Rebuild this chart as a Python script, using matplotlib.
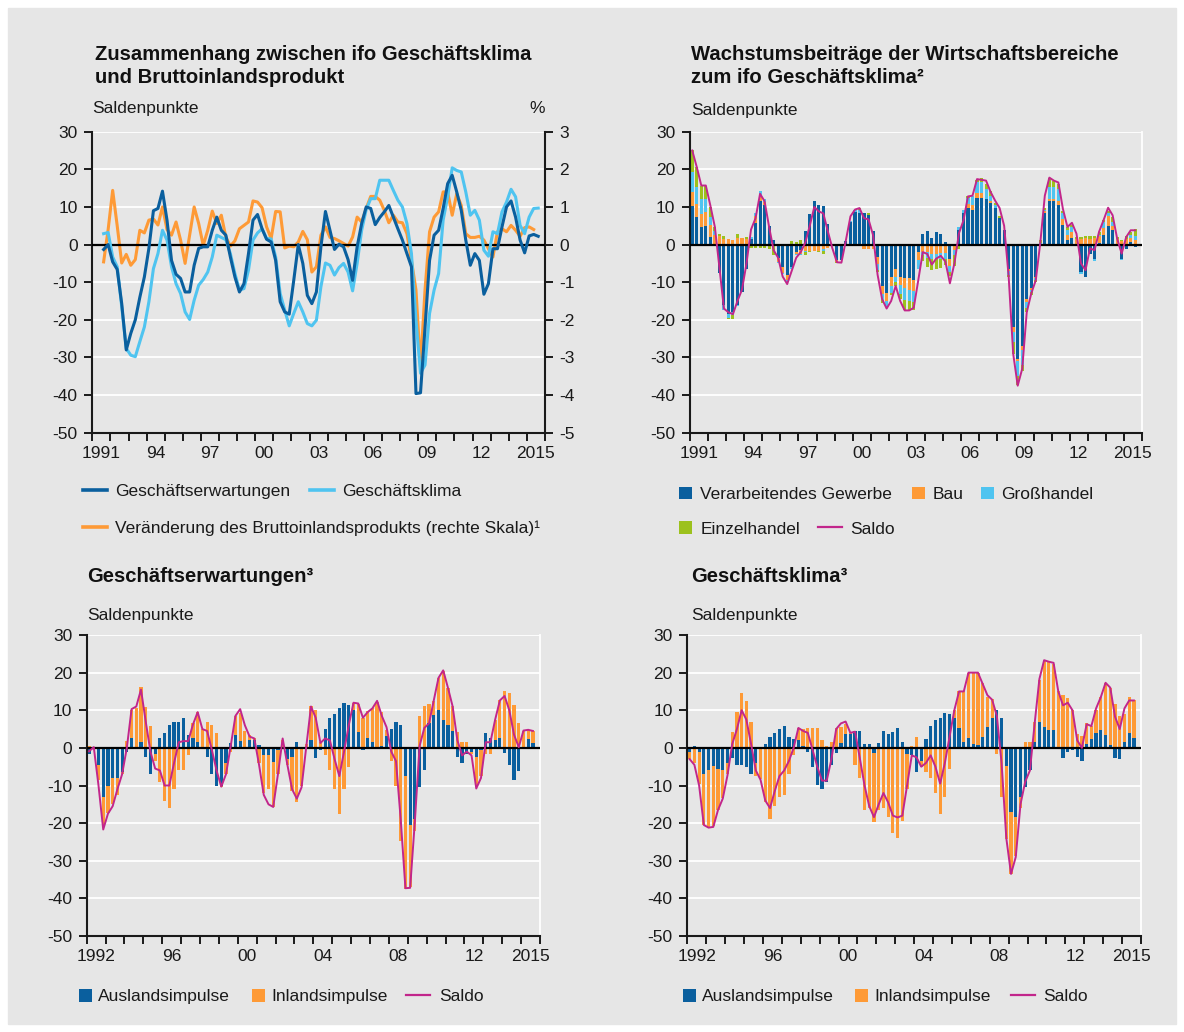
import numpy as np
import matplotlib.pyplot as plt
from matplotlib.lines import Line2D
from matplotlib.patches import Rectangle

plt.rcParams["font.family"] = ["Liberation Sans", "DejaVu Sans"]
plt.rcParams["font.size"] = 12.5
plt.rcParams["axes.unicode_minus"] = False
plt.rcParams["text.color"] = "#1a1a1a"

W, H = 1184, 1032

# Farben
BG = "#e6e6e6"
DUNKELBLAU = "#0a5f9e"
HELLBLAU = "#4fc4f0"
ORANGE = "#fe9a36"
GRUEN = "#9cc11d"
MAGENTA = "#c2268b"

# --- Daten Grafik 1 (Quartale ab 1991 Q3) ---
erwartungen = [-1.3, 0, -4.6, -6.6, -15.7, -28, -23.6, -20, -14, -8.6,
               -1, 9, 9.6, 14.2, 6.5, -4.2, -7.9, -9, -12.6, -12.6,
               -5.5, -1, -0.6, -0.6, 3.8, 7.3, 3.8, 2.5, -3.3, -8.6,
               -12.6, -10.4, -2.4, 6.5, 8, 4.2, 1.4, 0.7, -4.2, -15.2,
               -17.9, -18.5, -9.5, 0, -5, -13.5, -15.7, -12.6, -0.6, 8.8,
               3.8, -1.3, 0.1, -0.6, -4, -9.5, -0.6, 5.6, 10, 9.6,
               5.3, 7.2, 8.7, 10.4, 7.3, 4.2, 1.2, -2.4, -5.9, -39.6,
               -39.4, -22, -4.2, 2.5, 3.8, 9.6, 16.2, 18.4, 14, 9.1,
               1.2, -5.5, -2.4, -4.2, -13.2, -10.4, -1.1, -1.1, 4.7, 10,
               11.6, 7.3, 1.2, -2.2, 2.3, 2.7, 2.2]
klima = [2.9, 3.2, -3.3, -5.9, -16.5, -27.6, -29.4, -29.8, -25.8, -21.9,
         -15.2, -6.4, -2.4, 3.8, 1.2, -5.9, -10.4, -13, -17.9, -19.9,
         -14.8, -10.8, -9.3, -7.3, -3.3, 2.5, 1.9, 1.3, -2.4, -7.7,
         -12.1, -11.7, -6.8, 1.2, 3.1, 4.2, 1.6, 1.5, -3.3, -13,
         -17.4, -21.6, -18.3, -15.2, -17.9, -21, -21.6, -20.1, -11.2, -4.9,
         -5.5, -8.1, -6.1, -5, -7.3, -12.3, -5, 3.8, 9.3, 12.2,
         12.2, 17.1, 17.1, 17.1, 14.4, 11.8, 10, 5.6, -2.4, -20.1,
         -34.2, -32, -18.3, -12.1, -7.7, 6.5, 12.7, 20.4, 19.7, 19.3,
         14, 7.8, 9.1, 6.5, -1.5, -3.1, 3.4, 2.9, 8.7, 11.3,
         14.7, 12.7, 5.1, 2.9, 7.3, 9.6, 9.7]
bip = [-0.46, 0.4, 1.44, 0.5, -0.49, -0.26, -0.55, -0.4, 0.38, 0.31,
       0.65, 0.68, 0.52, 1.0, 0.4, 0.25, 0.6, 0.12, -0.5, 0.25,
       1.0, 0.56, -0.02, 0.38, 0.89, 0.56, 0.78, 0.2, -0.04, 0.1,
       0.42, 0.51, 0.6, 1.16, 1.13, 0.98, 0.47, 0.16, 0.88, 0.87,
       -0.09, -0.04, -0.06, 0.07, 0.35, 0.13, -0.73, -0.59, 0.25, 0.47,
       0.19, 0.16, 0.1, 0.03, -0.04, 0.2, 0.73, 0.6, 0.96, 1.28,
       1.28, 1.18, 0.91, 0.58, 0.78, 0.6, 0.58, 0.29, -0.42, -1.21,
       -3.25, -1.2, 0.34, 0.73, 0.87, 1.4, 1.4, 0.78, 1.35, 1.04,
       0.29, 0.19, 0.19, 0.22, 0.12, -0.11, -0.33, 0.34, 0.42, 0.34,
       0.51, 0.38, 0.22, 0.45, 0.47, 0.4]

# --- Daten Grafik 2 (Quartale ab 1991 Q1) ---
verarbeitend = [10.2, 7.3, 4.7, 4.9, 2, 0, -7.5, -16, -18.5, -18,
                -16, -12.5, -6.5, 1.5, 5.7, 11.7, 10.5, 5, 1.2, -3.5,
                -6, -8, -6, -2, -1.5, 3.5, 8, 11.5, 10.5, 10.2,
                5.5, 0, -4, -4, 1, 6, 8.6, 8.3, 8.3, 7.8,
                3.5, -3.3, -11, -13, -8.5, -6.5, -8.5, -9, -9, -9.3,
                -2, 2.7, 3.5, 1.7, 3.3, 2.8, 0.6, -3.8, 0, 4,
                8.5, 9.7, 9.3, 12.4, 12.4, 12.2, 11, 9.7, 7, 3.8,
                -6.5, -22, -30.5, -27, -14.5, -11.5, -8.5, -0.5, 8.5, 11.5,
                11.5, 10.5, 5.3, 1.3, 1.8, -0.3, -7.3, -8.5, -2.5, -3.8,
                0.3, 2.5, 5, 4, -0.3, -3.8, -1.1, 0.6, -0.6]
bau = [3.8, 3.5, 3.4, 3.8, 3.1, 2.5, 2.2, 1.6, 1.6, 1.2,
       1.8, 1.7, 1.5, 0, 2, 1, 0.7, 0, -0.5, -1,
       -1.5, -1.5, 0, -0.5, -0.9, -1.6, -1.8, -1.8, -1.8, -1.2,
       -0.8, -0.2, -0.5, 0, 0, 0, 0, 0, -1.2, -1.2,
       -1.2, -1.8, -2.2, -2, -2.5, -2, -2.2, -2.6, -3, -3,
       -2.2, -2, -2, -2.5, -2.5, -2.3, -2.3, -2, -1.5, -0.5,
       0, 1, 1.2, 1.3, 1.3, 0, 0.5, 0, 0, 0,
       -0.5, -1.3, -0.5, -1, -0.8, -0.5, -0.3, 0, 0.3, 0.7,
       0.6, 1.2, 1.5, 1.2, 1.5, 1.5, 1.5, 1.7, 1.5, 1.8,
       2, 2, 2.5, 1, 1.5, 1, 1.5, 1.2, 1.2]
grosshandel = [5.3, 4.4, 3.9, 3.3, 2.2, 1, 0, -1.5, -1, -0.8,
               -0.4, 0, 0, 0.5, 0.8, 1.5, 1, 0, 0, -0.3,
               -0.4, -0.5, -0.5, -0.3, -0.3, -0.5, 0, 0, 0, -0.5,
               0, 0, 0, -0.2, 0, 0.3, 0.5, 0.8, 0, 0,
               0, -1.7, -1.5, -1.5, -1.8, -1.5, -2.5, -3.2, -3, -3,
               -2.2, -0.8, -1.5, -1.3, -1.2, -1.5, -1.5, -1.5, -1.3, 0.7,
               0.8, 1.6, 2.3, 3, 3, 2.5, 1.5, 0.8, 0, 0,
               -1, -2.7, -3.8, -4, -1.5, -0.7, -0.7, 0.3, 0.5, 3.2,
               3.2, 3, 1.5, 1.5, 1.5, 0, -0.5, 0, 0, -0.5,
               0.3, 1.5, 1, 1, 0, -0.4, 0, 0.8, 1.1]
einzelhandel = [5.8, 5.4, 3.7, 3.7, 2.7, 1.2, 0.6, 0.6, -0.3, -1,
                1, 0, 0.5, -0.8, -0.8, -0.8, -1, -1.2, -2.4, 0,
                0, 0, 1, 0.6, 1.2, -0.6, -0.3, 0, -0.3, -0.7,
                0, 0, -0.5, 0, 0, 0, 0, 0.5, 0, 0.5,
                0, -0.6, -0.8, 0, -0.5, -1, -1.3, -2.5, -2.3, -2,
                0, -1.5, -2.4, -3, -2.8, -2.3, -1.5, -1, -2.8, -0.7,
                0, 0.5, 0, 0.5, 1, 1.3, 1.2, 0.5, 0.5, 0,
                -0.5, -3, -2.5, -1.5, -1.2, -0.8, -0.5, 0.8, 0.5, 2.2,
                1.5, 1.5, 0.5, 0.7, 0.5, 0.5, 0.6, 0.6, 0.8, 0.6,
                0.8, 0.5, 0.5, 1.2, 0.5, 0.3, 0.8, 0.8, 1.8]
saldo_bereiche = [25, 20.6, 15.7, 15.7, 10.4, 4.7, -6, -17, -18, -18.5,
                  -15, -12, -5, 4, 7, 13.5, 11.5, 4.7, -1.5, -3.5,
                  -8.5, -10.5, -7, -3.5, -2, 0.5, 5, 10, 8.8, 8.3,
                  3.5, -1, -4.7, -4.8, 1.2, 7.5, 9.3, 9.7, 7, 6.7,
                  2.5, -8, -14.5, -17, -15, -11, -15, -17.5, -17.5, -16.8,
                  -9.5, -2, -2.5, -5.3, -3.7, -3, -4.5, -10.3, -5, 3,
                  6.4, 12.8, 13, 17.4, 17.2, 17, 14, 11.7, 9.7, 5,
                  -8.5, -29, -37.5, -33, -18, -13, -9.5, 0.5, 13, 17.8,
                  17, 16.5, 9.5, 4.7, 5.8, 2.9, -5, -6.8, -1, -1.5,
                  3.4, 6.5, 9.8, 7.8, 1.6, -2.4, 2, 3.8, 3.8]

# --- Daten Grafik 3: Geschäftserwartungen (Quartale ab 1992 Q1) ---
erw_ausland = [-1.5, 0, -4.5, -13, -10, -8, -8, -6.5, -1.2, 2.5,
               0, 1.5, -2.3, -7, -1.5, 2.7, 4, 6, 7, 7,
               8, 3.5, 2.7, 1.6, 0, -2.5, -7, -10, -10, -4,
               1.3, 3.5, 1.8, 0, 2, 2, 0.8, -2, -2, -3.7,
               -0.5, 0, -3, -2.5, 1.5, 0, 0, 2, -2.8, -0.5,
               5, 8, 9, 10.5, 12, 11.5, 10, 4.2, -0.5, 2.7,
               1.5, 0.2, 0.5, 3.2, 5, 7, 6, -7.5, -20.5, -19,
               -10.3, -6, 6.7, 8.7, 10, 7.5, 6, 4.5, -2.3, -4,
               -1.5, -1, -2.5, -0.5, 4, 2.5, 2, 2.7, -1.4, -4.5,
               -8.5, -6.2, 0, 2.4, 1.3]
erw_inland = [0.5, 0, -4, -8, -7.3, -7, -4.4, -0.5, 1.8, 7.5,
              10.5, 14.8, 10.8, 5.8, -2, -9, -14, -16, -11, -6,
              -6, -2, 4, 8, 5, 7, 6, 4, -0.5, -3,
              -1, 5, 7.5, 4.6, 1.5, 0.5, -4, -10, -9, -12,
              -6.5, 2, -1.5, -9, -14.3, -10, 1, 9, 10, 1.5,
              -2, -6, -11, -17.5, -11, -5, 2, 7.5, 8, 7,
              9, 12, 9, 1.5, -3.5, -10, -24.7, -30, -16.5, -3,
              8.5, 11, 5, 3.8, 8.5, 13, 10, 6.5, 4.3, 1.5,
              1.5, -0.5, -8, -7, -1.5, -1.5, 5.5, 10, 15, 14.5,
              11.5, 6.5, 4.6, 2.4, 3.3]
erw_saldo = [-0.9, 0.2, -10, -21.7, -17.5, -15.5, -11, -7, 0, 10.3,
             11, 15.5, 7, -1, -5.5, -6, -10, -10, -4, 1.5,
             1.8, 1.8, 6.2, 9.5, 5, 4.5, -0.5, -6, -10.3, -7,
             0.5, 8.5, 10.3, 6, 3, 2.5, -4.5, -12.5, -15, -15.7,
             -7, 2.5, -4.5, -11, -13.5, -10.5, 0.3, 11, 8, 1.3,
             2.5, 2, -3, -7.5, -1, 6, 12, 11.8, 8, 9.5,
             10.5, 12.5, 8.5, 5.5, -1, -3.5, -19, -37.3, -37.2, -19.5,
             0.5, 5.3, 6.5, 12.6, 18.6, 20.6, 16, 11, 2, -2,
             -1, -2, -10.8, -8, 1.5, 1.5, 7.5, 12.6, 13.8, 10,
             3.5, 0.2, 4.6, 4.8, 4.5]

# --- Daten Grafik 4: Geschäftsklima (Quartale ab 1992 Q1) ---
kli_ausland = [-1, 0.5, -1.2, -7, -5.8, -4.8, -5.5, -5.8, -4, -2.8,
               -4.5, -4.5, -5, -7, -4, -0.3, 1, 3, 4, 5,
               5.8, 3, 2.4, 2, 0.5, -1.2, -5.2, -9.8, -11, -9,
               -4.5, -1.3, 1.3, 3.8, 3.8, 4.6, 4.6, 1, 1, -1.3,
               1.2, 4.6, 3.8, 4.2, 5.3, 1.5, -1.5, -2, -6.3, -3.5,
               2.4, 5.8, 7.5, 8, 9.3, 9, 8, 5.3, 1.5, 2.5,
               1, 0.8, 2.8, 5.6, 8, 10, 8, -4.7, -17, -18.3,
               -13, -10.5, -6, 1.5, 7, 5.5, 4.8, 4.8, 0, -2.8,
               -1, -0.5, -2.3, -3.4, 1, 2.4, 4, 4.8, 3.5, 0.8,
               -2.8, -3, 1.5, 4, 2.7]
kli_inland = [-2, -4, -8.5, -13.5, -15.5, -16, -11, -7.5, -3, 4.3,
              9.5, 14.5, 12.5, 7, -3.5, -8, -14.5, -19, -15.5, -13,
              -12.5, -7, -2, 3.3, 4.5, 5.3, 5.3, 5.2, 2, 0.5,
              1.5, 5.2, 4.2, 2.5, 0.5, -4.5, -8, -16.5, -16, -18.3,
              -16.5, -16, -18.5, -22.5, -24, -19.5, -9.5, 0.5, 3, -1.5,
              -6.5, -8, -12, -17.5, -13, -5.5, 2, 9.7, 13.5, 17.5,
              19, 19, 14.5, 8, 5, -1.5, -13, -19.5, -16.5, -10.5,
              -3, 1.5, 1.5, 5.4, 11, 17.5, 18, 17.5, 15, 14,
              13.2, 10, 3.7, 3.2, 5.5, 3.5, 6, 8.8, 13.8, 15,
              11.7, 8.4, 7.6, 9.5, 10]
kli_saldo = [-3, -4.5, -10, -20.5, -21.2, -21, -16.5, -13.5, -7.3, 1,
             5, 10, 7.5, 1, -6, -8.5, -14, -16, -11.5, -7.5,
             -6, -3.5, 0, 5.3, 4.5, 4, -0.5, -5, -8.7, -8.7,
             -3, 5, 6.5, 7, 4, 4.3, -2.7, -10, -15.5, -18.4,
             -15, -12, -14.5, -18, -18.5, -18, -10, -2, -2.5, -5,
             -4, -2, -5, -9.5, -4, 3, 10, 15, 15, 20,
             20, 20, 17, 14, 12.8, 8.5, -4, -24, -33.5, -29,
             -15, -9, -6, 6.5, 18.3, 23.3, 22.9, 22.6, 15, 11.3,
             12, 10, 2, 0, 6.3, 5.8, 10.5, 13.5, 17.3, 16,
             8.3, 5, 10.5, 12.6, 12.6]

labels_1991 = ["1991", "94", "97", "00", "03", "06", "09", "12", "2015"]
jahre_1991 = [1991, 1994, 1997, 2000, 2003, 2006, 2009, 2012, 2015]
labels_1992 = ["1992", "96", "00", "04", "08", "12", "2015"]
jahre_1992 = [1992, 1996, 2000, 2004, 2008, 2012, 2015]


def fx(x):
    return x / W


def fy(y):
    return 1 - y / H


def achse(left, top, right, bottom):
    return fig.add_axes([fx(left), fy(bottom), (right - left) / W, (bottom - top) / H])


def gestalten(ax, start, jahre, labels, rechts_weiss=True):
    ax.set_facecolor(BG)
    ax.set_xlim(start, 2016)
    ax.set_ylim(-50, 30)
    ax.set_yticks(range(-50, 31, 10))
    ax.set_xticks(range(start, 2017))
    ax.set_xticklabels([])
    ax.set_xticks([j + 0.5 for j in jahre], minor=True)
    ax.set_xticklabels(labels, minor=True)
    ax.tick_params(which="major", length=5.5, width=1.4, direction="out", pad=5, labelsize=12.5, colors="#1a1a1a")
    ax.tick_params(axis="x", which="minor", length=0, pad=9.5, labelsize=12.5, colors="#1a1a1a")
    ax.tick_params(axis="y", which="minor", left=False, right=False)
    ax.yaxis.grid(True, color="white", lw=1.3)
    ax.set_axisbelow(True)
    ax.spines["top"].set_visible(False)
    for s in ("left", "bottom"):
        ax.spines[s].set_linewidth(1.5)
        ax.spines[s].set_color("#1a1a1a")
    if rechts_weiss:
        ax.spines["right"].set_color("white")
        ax.spines["right"].set_linewidth(1.3)
    ax.axhline(0, color="black", lw=1.6, zorder=3)


def gestapelt(ax, x, reihen, farben, breite):
    # positive und negative Beiträge getrennt stapeln
    pos = np.zeros(len(x))
    neg = np.zeros(len(x))
    for werte, farbe in zip(reihen, farben):
        v = np.asarray(werte, dtype=float)
        p = np.where(v > 0, v, 0)
        n = np.where(v < 0, v, 0)
        ax.bar(x, p, breite, bottom=pos, color=farbe, linewidth=0, zorder=2)
        ax.bar(x, n, breite, bottom=neg, color=farbe, linewidth=0, zorder=2)
        pos += p
        neg += n


def text(x, y, s, **kw):
    fig.text(fx(x), fy(y), s, va="baseline", **kw)


def leg_linie(x0, x1, y, farbe, lw):
    fig.add_artist(Line2D([fx(x0), fx(x1)], [fy(y), fy(y)], color=farbe, lw=lw,
                          transform=fig.transFigure))


def leg_box(x0, y0, farbe, size=12.5):
    fig.add_artist(Rectangle((fx(x0), fy(y0 + size)), size / W, size / H, color=farbe,
                             transform=fig.transFigure, linewidth=0))


fig = plt.figure(figsize=(W / 100, H / 100), dpi=100, facecolor="white")
fig.add_artist(Rectangle((fx(8), fy(1024)), 1168 / W, 1016 / H, color=BG,
                         transform=fig.transFigure, zorder=0))

TITEL = dict(fontsize=14.6, fontweight="bold", color="#111111")

# ---------- Grafik 1 ----------
ax1 = achse(92.3, 131.7, 545, 432.7)
ax1r = ax1.twinx()
ax1r.set_zorder(1)
ax1.set_zorder(2)
ax1.patch.set_visible(False)
ax1r.patch.set_visible(True)
ax1r.set_facecolor(BG)
gestalten(ax1, 1991, jahre_1991, labels_1991, rechts_weiss=False)
ax1.yaxis.grid(False)
ax1r.set_ylim(-5, 3)
ax1r.set_yticks(range(-5, 4))
ax1r.yaxis.grid(True, color="white", lw=1.3)
ax1r.tick_params(length=5.5, width=1.4, direction="out", pad=5, labelsize=12.5, colors="#1a1a1a")
for s in ("top", "left", "bottom"):
    ax1r.spines[s].set_visible(False)
ax1r.spines["right"].set_linewidth(1.5)
ax1r.spines["right"].set_color("#1a1a1a")
ax1.spines["right"].set_visible(False)

x_erw = 1991.625 + 0.25 * np.arange(len(erwartungen))
x_bip = 1991.625 + 0.25 * np.arange(len(bip))
ax1r.plot(x_bip, bip, color=ORANGE, lw=2.2, zorder=2)
ax1.plot(x_erw, klima, color=HELLBLAU, lw=2.2, zorder=4)
ax1.plot(x_erw, erwartungen, color=DUNKELBLAU, lw=2.2, zorder=5)

text(95, 60.5, "Zusammenhang zwischen ifo Geschäftsklima", **TITEL)
text(95, 83, "und Bruttoinlandsprodukt", **TITEL)
text(92, 113, "Saldenpunkte")
text(545, 113, "%", ha="right")

leg_linie(82.5, 106.5, 490, DUNKELBLAU, 2.6)
text(115, 495.5, "Geschäftserwartungen")
leg_linie(310, 334, 490, HELLBLAU, 2.6)
text(342, 495.5, "Geschäftsklima")
leg_linie(82.5, 106.5, 527, ORANGE, 2.6)
text(115, 532.5, "Veränderung des Bruttoinlandsprodukts (rechte Skala)¹")

# ---------- Grafik 2 ----------
ax2 = achse(690, 131.7, 1142, 432.7)
gestalten(ax2, 1991, jahre_1991, labels_1991)
x_q91 = 1991.125 + 0.25 * np.arange(len(verarbeitend))
gestapelt(ax2, x_q91, [verarbeitend, bau, grosshandel, einzelhandel],
          [DUNKELBLAU, ORANGE, HELLBLAU, GRUEN], 0.17)
ax2.plot(x_q91, saldo_bereiche, color=MAGENTA, lw=1.4, zorder=5)

text(691, 60.5, "Wachstumsbeiträge der Wirtschaftsbereiche", **TITEL)
text(691, 83, "zum ifo Geschäftsklima²", **TITEL)
text(691, 115, "Saldenpunkte")

leg_box(679, 486.5, DUNKELBLAU)
text(700.5, 498.5, "Verarbeitendes Gewerbe")
leg_box(912, 486.5, ORANGE)
text(932.5, 498.5, "Bau")
leg_box(981, 486.5, HELLBLAU)
text(1001.5, 498.5, "Großhandel")
leg_box(679, 521, GRUEN)
text(700.5, 533.5, "Einzelhandel")
leg_linie(818, 842, 527, MAGENTA, 1.6)
text(850.5, 533.5, "Saldo")

# ---------- Grafik 3 ----------
ax3 = achse(86.7, 635, 540, 936)
gestalten(ax3, 1992, jahre_1992, labels_1992)
x_q92 = 1992.125 + 0.25 * np.arange(len(erw_ausland))
gestapelt(ax3, x_q92, [erw_ausland, erw_inland], [DUNKELBLAU, ORANGE], 0.17)
ax3.plot(x_q92, erw_saldo, color=MAGENTA, lw=1.4, zorder=5)

text(87, 582, "Geschäftserwartungen³", **TITEL)
text(87, 620, "Saldenpunkte")

leg_box(79, 989, DUNKELBLAU)
text(98, 1001, "Auslandsimpulse")
leg_box(252, 989, ORANGE)
text(271, 1001, "Inlandsimpulse")
leg_linie(406, 430, 995, MAGENTA, 1.6)
text(439, 1001, "Saldo")

# ---------- Grafik 4 ----------
ax4 = achse(687.3, 635, 1141, 936)
gestalten(ax4, 1992, jahre_1992, labels_1992)
gestapelt(ax4, x_q92, [kli_ausland, kli_inland], [DUNKELBLAU, ORANGE], 0.17)
ax4.plot(x_q92, kli_saldo, color=MAGENTA, lw=1.4, zorder=5)

text(691, 582, "Geschäftsklima³", **TITEL)
text(691, 620, "Saldenpunkte")

leg_box(683, 989, DUNKELBLAU)
text(702, 1001, "Auslandsimpulse")
leg_box(855, 989, ORANGE)
text(874, 1001, "Inlandsimpulse")
leg_linie(1011, 1035, 995, MAGENTA, 1.6)
text(1043, 1001, "Saldo")

fig.savefig("out.png", dpi=100, facecolor=fig.get_facecolor())
